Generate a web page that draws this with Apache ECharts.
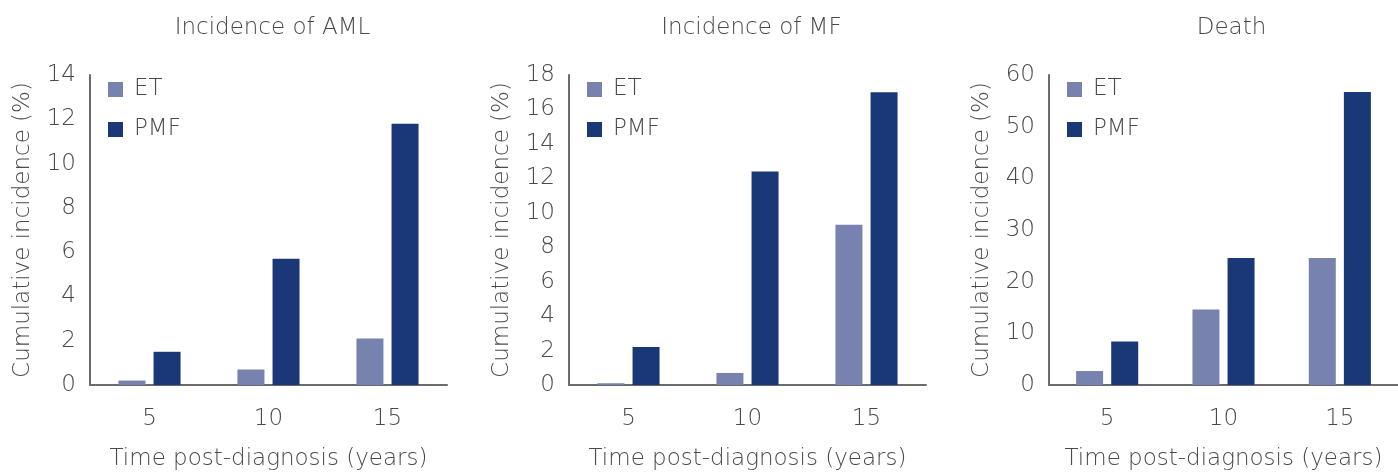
<!DOCTYPE html>
<html><head><meta charset="utf-8">
<script src="https://cdn.jsdelivr.net/npm/echarts@6/dist/echarts.min.js"></script>
<style>html,body{margin:0;padding:0;background:#fff}#c{width:1398px;height:476px}</style>
</head><body><div id="c"></div>
<script>
const categories = ['5', '10', '15'];
const panelTitles = ['Incidence of AML', 'Incidence of MF', 'Death'];
const amlET = [0.2, 0.7, 2.1];
const amlPMF = [1.5, 5.7, 11.8];
const mfET = [0.1, 0.7, 9.3];
const mfPMF = [2.2, 12.4, 17.0];
const deathET = [2.7, 14.6, 24.6];
const deathPMF = [8.4, 24.6, 56.7];
const yMax = [14, 18, 60];
const yInterval = [2, 2, 10];
const seriesNames = ['ET', 'PMF'];
const xName = 'Time post-diagnosis (years)';
const yName = 'Cumulative incidence (%)';

const panelData = [[amlET, amlPMF], [mfET, mfPMF], [deathET, deathPMF]];
const colors = ['#7882ae', '#1a3778'];
const txt = '#4a4a4a';
const font = 'DejaVu Sans';
const FS = 23;
const FW = 200;
const lefts = [90, 569, 1049];
const W = 357, TOP = 75, H = 313;

const option = {
  animation: false,
  textStyle: { fontFamily: font },
  title: panelTitles.map((t, i) => ({
    text: t, left: lefts[i] + W / 2 - 1, top: 12, textAlign: 'center',
    textStyle: { fontFamily: font, fontSize: FS, fontWeight: FW, color: txt }
  })),
  legend: panelTitles.map((t, i) => ({
    data: seriesNames, orient: 'vertical', left: lefts[i] + 13, top: 71,
    itemWidth: 15, itemHeight: 15, itemGap: 13, icon: 'rect', selectedMode: false,
    textStyle: { fontFamily: font, fontSize: FS, fontWeight: FW, color: txt, lineHeight: 23, padding: [4, 0, 0, 6] }
  })),
  grid: lefts.map(l => ({ left: l, top: TOP, width: W, height: H })),
  xAxis: lefts.map((l, i) => ({
    type: 'category', gridIndex: i, data: categories,
    name: xName, nameLocation: 'middle', nameGap: 63,
    nameTextStyle: { fontFamily: font, fontSize: FS, fontWeight: FW, color: txt },
    axisLine: { lineStyle: { color: '#6b6b6b', width: 2 } },
    axisTick: { show: false },
    axisLabel: { fontFamily: font, fontSize: FS, fontWeight: FW, color: txt, margin: 23 }
  })),
  yAxis: lefts.map((l, i) => ({
    type: 'value', gridIndex: i, min: 0, max: yMax[i], interval: yInterval[i],
    name: yName, nameLocation: 'middle', nameGap: 55,
    nameTextStyle: { fontFamily: font, fontSize: FS, fontWeight: FW, color: txt },
    axisLine: { show: true, lineStyle: { color: '#6b6b6b', width: 2 } },
    axisTick: { show: false }, splitLine: { show: false },
    axisLabel: { fontFamily: font, fontSize: FS, fontWeight: FW, color: txt, margin: 14, padding: [6, 0, 0, 0] }
  })),
  series: []
};
panelData.forEach((pair, i) => {
  pair.forEach((vals, j) => {
    option.series.push({
      type: 'bar', name: seriesNames[j], xAxisIndex: i, yAxisIndex: i,
      data: vals, barWidth: 27, barGap: '30%',
      itemStyle: { color: colors[j] }
    });
  });
});
const chart = echarts.init(document.getElementById('c'), null, { renderer: 'canvas' });
chart.setOption(option);
</script></body></html>
